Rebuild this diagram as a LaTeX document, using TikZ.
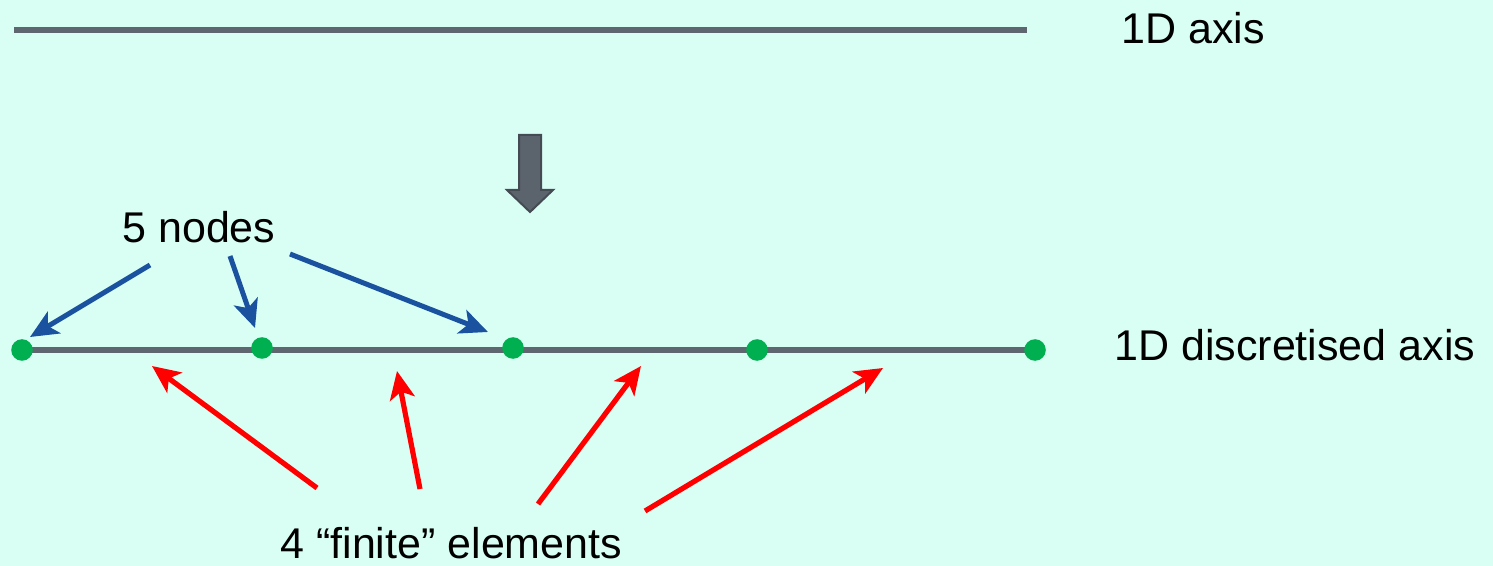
\documentclass[tikz,border=0pt]{standalone}
\usepackage{fontspec}
\setmainfont{Liberation Sans}
\usetikzlibrary{arrows.meta}
\definecolor{bg}{HTML}{D9FFF5}
\definecolor{axisgray}{HTML}{5E6670}
\definecolor{dotgreen}{HTML}{00B050}
\definecolor{nodeblue}{HTML}{1A52A0}
\definecolor{elemred}{HTML}{FF0000}
\definecolor{blockfill}{HTML}{5B636D}
\definecolor{blockedge}{HTML}{454B53}
\tikzset{
  axisline/.style={draw=axisgray, line width=3pt},
  fedot/.style={circle, fill=dotgreen, minimum size=10.8pt, inner sep=0pt},
  lbl/.style={font=\fontsize{21.5}{25}\selectfont, anchor=base west, inner sep=0pt, text=black},
  bluearrow/.style={draw=nodeblue, line width=2.5pt, -{Stealth[length=14pt, width=12.5pt, inset=3.5pt]}},
  redarrow/.style={draw=elemred, line width=2.6pt, -{Stealth[length=14pt, width=12.5pt, inset=3.5pt]}},
}
\begin{document}
\begin{tikzpicture}[x=0.5pt, y=-0.5pt]
\fill[bg] (0,0) rectangle (1493,566);
\useasboundingbox (0,0) rectangle (1493,566);
% continuous axis
\coordinate (a0) at (14,30);
\coordinate (a1) at (1027,30);
\draw[axisline] (a0) -- (a1);
\node[lbl] (axislbl) at (1121,44) {1D axis};
% block arrow
\filldraw[fill=blockfill, draw=blockedge, line width=1pt]
  (519,135) -- (541,135) -- (541,190) -- (553,190) -- (530,212) -- (507,190) -- (519,190) -- cycle;
% discretised axis
\coordinate (d0) at (22,350);
\coordinate (d1) at (1035,350);
\draw[axisline] (d0) -- (d1);
\node[fedot] (n1) at (22,350) {};
\node[fedot] (n2) at (262,348) {};
\node[fedot] (n3) at (513,348) {};
\node[fedot] (n4) at (757,350) {};
\node[fedot] (n5) at (1035,350) {};
\node[lbl] (disclbl) at (1114,361) {1D discretised axis};
% nodes label and arrows
\node[lbl] (nodeslbl) at (122,243) {5 nodes};
\coordinate (b1s) at (150,265); \coordinate (b1e) at (30,337);
\coordinate (b2s) at (230,256); \coordinate (b2e) at (255,328);
\coordinate (b3s) at (290,254); \coordinate (b3e) at (488,332);
\draw[bluearrow] (b1s) -- (b1e);
\draw[bluearrow] (b2s) -- (b2e);
\draw[bluearrow] (b3s) -- (b3e);
% elements label and arrows
\node[lbl] (elemlbl) at (280,558) {4 “finite” elements};
\coordinate (r1s) at (317,488); \coordinate (r1e) at (152,366);
\coordinate (r2s) at (420,489); \coordinate (r2e) at (397,371);
\coordinate (r3s) at (538,504); \coordinate (r3e) at (641,366);
\coordinate (r4s) at (645,511); \coordinate (r4e) at (883,368);
\draw[redarrow] (r1s) -- (r1e);
\draw[redarrow] (r2s) -- (r2e);
\draw[redarrow] (r3s) -- (r3e);
\draw[redarrow] (r4s) -- (r4e);
\end{tikzpicture}
\end{document}
